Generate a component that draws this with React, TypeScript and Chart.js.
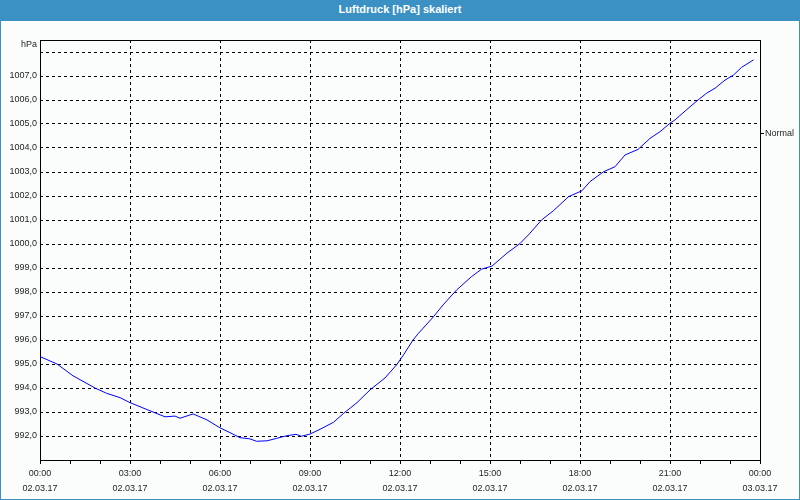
import React, { useEffect, useRef } from "react";
import { Chart, registerables } from "chart.js";

Chart.register(...registerables);

// ---- data ----
const chartTitle = "Luftdruck [hPa] skaliert";
const unitLabel = "hPa";
const normalLabel = "Normal";
const normalLevel = 1004.6;

const times = [
  "00:00", "00:34", "01:06", "01:50", "02:13", "02:40", "03:00", "03:40", "04:10", "04:30",
  "04:40", "05:06", "05:34", "06:00", "06:20", "06:40", "07:00", "07:13", "07:34", "07:53",
  "08:13", "08:32", "08:43", "09:00", "09:20", "09:47", "10:07", "10:34", "11:00", "11:30",
  "11:53", "12:07", "12:26", "12:37", "13:07", "13:26", "13:53", "14:23", "14:43", "15:04",
  "15:34", "16:00", "16:20", "16:43", "17:07", "17:37", "18:04", "18:20", "18:47", "19:10",
  "19:30", "19:56", "20:20", "20:40", "21:00", "21:10", "21:34", "21:56", "22:13", "22:30",
  "22:50", "23:07", "23:23", "23:47",
];

const pressure = [
  995.31, 995.0, 994.51, 994.0, 993.78, 993.6, 993.39, 993.05, 992.8, 992.83,
  992.74, 992.92, 992.67, 992.34, 992.14, 991.93, 991.88, 991.78, 991.8, 991.9,
  992.01, 992.07, 991.99, 992.08, 992.28, 992.57, 992.94, 993.39, 993.92, 994.42,
  994.96, 995.38, 996.0, 996.28, 996.97, 997.46, 998.08, 998.64, 998.95, 999.08,
  999.62, 1000.02, 1000.45, 1001.0, 1001.39, 1001.97, 1002.22, 1002.6, 1003.01, 1003.22,
  1003.71, 1003.94, 1004.4, 1004.68, 1005.03, 1005.17, 1005.61, 1006.0, 1006.28, 1006.49,
  1006.83, 1007.04, 1007.36, 1007.67,
];

const xTickTimes = ["00:00", "03:00", "06:00", "09:00", "12:00", "15:00", "18:00", "21:00", "00:00"];
const xTickDates = ["02.03.17", "02.03.17", "02.03.17", "02.03.17", "02.03.17", "02.03.17", "02.03.17", "02.03.17", "03.03.17"];

const yMin = 991;
const yMax = 1008.5;
const yTicks = [992, 993, 994, 995, 996, 997, 998, 999, 1000, 1001, 1002, 1003, 1004, 1005, 1006, 1007, 1008];

// ---- layout constants ----
const W = 800;
const H = 500;
const TITLE_H = 21;
const CANVAS_W = W - 2;
const CANVAS_H = H - TITLE_H - 1;
const BG = "#fbfdfd";
const FRAME_BLUE = "#3c91c4";
const TEXT = "#1e1e1e";
const FONT = "'Liberation Sans', Arial, sans-serif";

const toHours = (t: string) => {
  const [h, m] = t.split(":").map(Number);
  return h + m / 60;
};

export default function App() {
  const ref = useRef<HTMLCanvasElement | null>(null);

  useEffect(() => {
    document.body.style.margin = "0";
    const canvas = ref.current;
    if (!canvas) return;

    const hourTicks = Array.from({ length: 25 }, (_, i) => i);

    const framePlugin = {
      id: "frameAndUnit",
      beforeDatasetsDraw(chart: any) {
        const { ctx, chartArea } = chart;
        ctx.save();
        ctx.strokeStyle = "#000";
        ctx.lineWidth = 1;
        ctx.setLineDash([]);
        const l = Math.round(chartArea.left) + 0.5;
        const t = Math.round(chartArea.top) + 0.5;
        const r = Math.round(chartArea.right) + 0.5;
        const b = Math.round(chartArea.bottom) + 0.5;
        ctx.strokeRect(l, t, r - l, b - t);
        ctx.restore();
      },
      afterDraw(chart: any) {
        const { ctx, chartArea } = chart;
        ctx.save();
        ctx.fillStyle = TEXT;
        ctx.font = `9px ${FONT}`;
        ctx.textAlign = "right";
        ctx.textBaseline = "middle";
        ctx.fillText(unitLabel, chartArea.left - 3, chartArea.top + 5);
        ctx.restore();
      },
    };

    const chart = new Chart(canvas, {
      type: "line",
      data: {
        datasets: [
          {
            label: chartTitle,
            data: times.map((t, i) => ({ x: toHours(t), y: pressure[i] })),
            borderColor: "#0000ff",
            borderWidth: 1,
            pointRadius: 0,
            tension: 0,
            fill: false,
          },
        ],
      },
      options: {
        animation: false,
        responsive: false,
        maintainAspectRatio: false,
        layout: { padding: { top: 19, left: 0, right: 0, bottom: 0 } },
        plugins: {
          legend: { display: false },
          title: { display: false },
          tooltip: { enabled: false },
        },
        scales: {
          x: {
            type: "linear",
            min: 0,
            max: 24,
            afterBuildTicks: (scale: any) => {
              scale.ticks = hourTicks.map((v) => ({ value: v }));
            },
            afterFit: (scale: any) => {
              scale.height = CANVAS_H - 439;
            },
            grid: {
              color: (ctx: any) =>
                ctx.tick && ctx.tick.value % 3 === 0 ? "#000" : "rgba(0,0,0,0)",
              tickColor: "#000",
              tickLength: 4,
              lineWidth: 1,
              drawTicks: true,
            },
            border: { display: false, dash: [3, 3] },
            ticks: {
              autoSkip: false,
              maxRotation: 0,
              minRotation: 0,
              padding: 2,
              color: TEXT,
              font: { family: FONT, size: 9, lineHeight: "15px" } as any,
              callback: (value: any) => {
                const v = Number(value);
                if (v % 3 !== 0) return "";
                const i = v / 3;
                return [xTickTimes[i], xTickDates[i]];
              },
            },
          },
          y: {
            type: "linear",
            position: "left",
            min: yMin,
            max: yMax,
            afterBuildTicks: (scale: any) => {
              scale.ticks = yTicks.map((v) => ({ value: v }));
            },
            afterFit: (scale: any) => {
              scale.width = 39;
            },
            grid: {
              color: "#000",
              lineWidth: 1,
              drawTicks: false,
            },
            border: { display: false, dash: [3, 3] },
            ticks: {
              padding: 3,
              color: TEXT,
              font: { family: FONT, size: 9 },
              callback: (value: any) => {
                const v = Number(value);
                if (v === 1008) return "";
                return v.toFixed(1).replace(".", ",");
              },
            },
          },
          y2: {
            type: "linear",
            position: "right",
            min: yMin,
            max: yMax,
            afterBuildTicks: (scale: any) => {
              scale.ticks = [{ value: normalLevel }];
            },
            afterFit: (scale: any) => {
              scale.width = 39;
            },
            grid: {
              drawOnChartArea: false,
              color: "#000",
              tickColor: "#000",
              tickLength: 4,
              drawTicks: true,
            },
            border: { display: false },
            ticks: {
              padding: 1,
              color: TEXT,
              font: { family: FONT, size: 9 },
              callback: () => normalLabel,
            },
          },
        },
      },
      plugins: [framePlugin],
    } as any);

    return () => chart.destroy();
  }, []);

  return (
    <div
      style={{
        width: W,
        height: H,
        boxSizing: "border-box",
        background: BG,
        borderLeft: `1px solid ${FRAME_BLUE}`,
        borderRight: `1px solid ${FRAME_BLUE}`,
        borderBottom: `1px solid ${FRAME_BLUE}`,
        position: "relative",
        overflow: "hidden",
      }}
    >
      <div
        style={{
          height: TITLE_H,
          margin: "0 -1px",
          background: FRAME_BLUE,
          color: "#fff",
          fontFamily: FONT,
          fontWeight: "bold",
          fontSize: 11,
          lineHeight: `${TITLE_H - 3}px`,
          textAlign: "center",
        }}
      >
        {chartTitle}
      </div>
      <canvas
        ref={ref}
        width={CANVAS_W}
        height={CANVAS_H}
        style={{ display: "block", width: CANVAS_W, height: CANVAS_H }}
      />
    </div>
  );
}
